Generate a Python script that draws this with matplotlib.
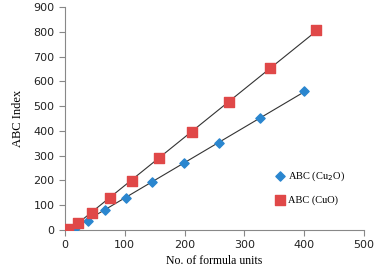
import numpy as np
import matplotlib.pyplot as plt

# ABC index vs. number of formula units
cu2o_x = [5, 19, 39, 67, 102, 146, 199, 258, 326, 400]
cu2o_y = [2, 13, 38, 81, 131, 194, 270, 353, 452, 560]
cuo_x = [5, 21, 46, 75, 112, 158, 212, 274, 343, 420]
cuo_y = [5, 28, 69, 130, 199, 291, 395, 515, 654, 807]

fig = plt.figure(figsize=(3.8, 2.75), dpi=100)
ax = fig.add_axes([0.171, 0.1636, 0.787, 0.811])

# linear trend lines
for xs, ys in [(cu2o_x, cu2o_y), (cuo_x, cuo_y)]:
    k, b = np.polyfit(xs, ys, 1)
    xx = np.array([min(xs), max(xs)])
    ax.plot(xx, k * xx + b, color="#333333", lw=0.8, zorder=2)

ax.scatter(cu2o_x, cu2o_y, marker="D", s=22, color="#2a86cf", label="ABC (Cu$_2$O)", zorder=3)
ax.scatter(cuo_x, cuo_y, marker="s", s=55, color="#e04848", label="ABC (CuO)", zorder=3)

ax.set_xlim(0, 500)
ax.set_ylim(0, 900)
ax.set_xticks(range(0, 501, 100))
ax.set_yticks(range(0, 901, 100))
for s in ["top", "right"]:
    ax.spines[s].set_visible(False)
for s in ["left", "bottom"]:
    ax.spines[s].set_color("#888888")
    ax.spines[s].set_linewidth(0.8)
ax.tick_params(labelsize=8, colors="#888888", labelcolor="#222222", length=4, width=0.8)

ax.set_xlabel("No. of formula units", family="Liberation Serif", fontsize=8.5, labelpad=3)
ax.set_ylabel("ABC Index", family="Liberation Serif", fontsize=9, labelpad=7)

leg = ax.legend(loc="center left", bbox_to_anchor=(0.67, 0.19), frameon=False,
                prop={"family": "Liberation Serif", "size": 7.5}, handletextpad=0.3,
                labelspacing=1.2, handlelength=1.0)

fig.savefig("out.png", dpi=100)
